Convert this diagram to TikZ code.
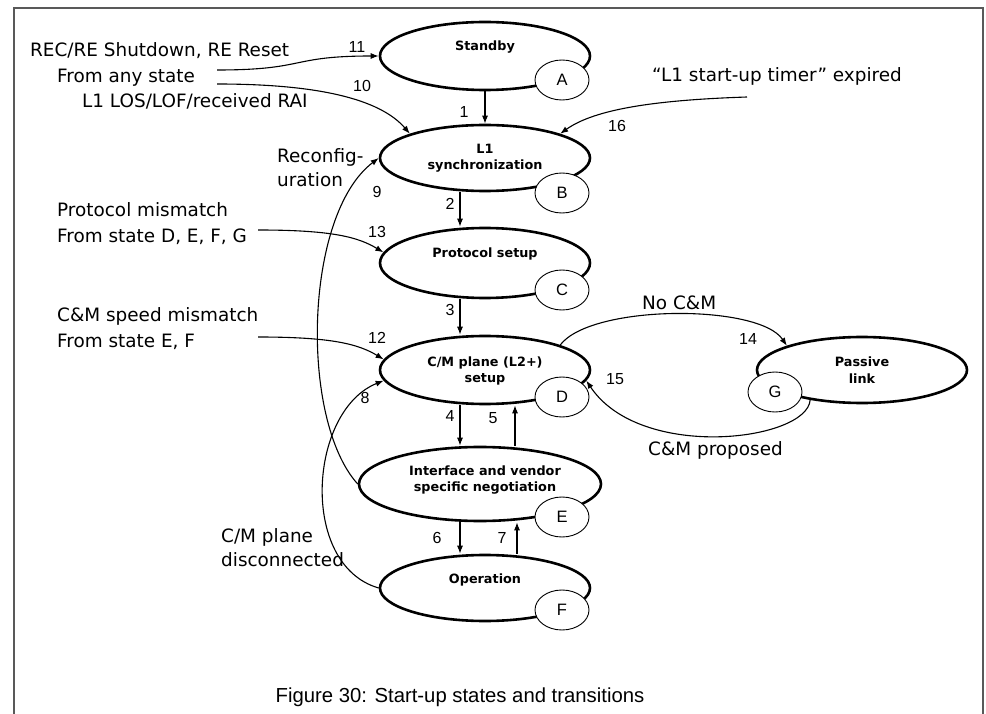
\documentclass[tikz,border=0pt]{standalone}
\usepackage{fontspec}
\setmainfont{DejaVu Sans}
\newfontfamily\arialfont{Liberation Sans}
\usetikzlibrary{calc,shapes,arrows.meta}

\tikzset{
  state/.style={draw,ellipse,line width=2.6pt,fill=white,inner sep=0pt},
  tag/.style={draw,ellipse,line width=0.9pt,fill=white,inner sep=0pt,
    minimum width=54pt,minimum height=40pt,
    font=\arialfont\fontsize{16.5}{18}\selectfont},
  statelbl/.style={font=\bfseries\fontsize{12.8}{16.5}\selectfont,align=center,inner sep=0pt},
  txt/.style={font=\fontsize{18.4}{22}\selectfont,anchor=base west,inner sep=0pt},
  num/.style={font=\arialfont\fontsize{16}{18}\selectfont,inner sep=0pt},
  trans/.style={line width=1.1pt,-{Latex[length=8pt,width=6pt]}},
}

\begin{document}
\begin{tikzpicture}[x=1pt,y=-1pt]
  \useasboundingbox (0,0) rectangle (986,714);
  \draw[black!65,line width=2pt] (14,714) -- (14,8) -- (983,8) -- (983,714);

  %% The states
  \foreach \l/\x/\y/\w/\h in {A/485/56/210/68, B/485/158/210/66, C/485/263/210/70,
      D/485/370/210/68, E/480/484/242/74, F/485/588/210/66, G/862/370/210/66}
  {
    \node[state,minimum width=\w pt,minimum height=\h pt] (S\l) at (\x,\y) {};
  }
  \node[statelbl] (LA) at (485,47)  {Standby};
  \node[statelbl] (LB) at (485,158) {L1\\synchronization};
  \node[statelbl] (LC) at (485,254) {Protocol setup};
  \node[statelbl] (LD) at (485,371) {C/M plane (L2+)\\setup};
  \node[statelbl] (LE) at (485,480) {Interface and vendor\\specific negotiation};
  \node[statelbl] (LF) at (485,580) {Operation};
  \node[statelbl] (LG) at (862,370) {Passive\\link};

  %% Main chain
  \draw[trans] (SA.south) -- (SB.north);
  \draw[trans] ([xshift=-25]SB.south) -- ([xshift=-25]SC.north);
  \draw[trans] ([xshift=-25]SC.south) -- ([xshift=-25]SD.north);
  \draw[trans] ([xshift=-25]SD.south) -- ([xshift=-20]SE.north);
  \draw[trans] ([xshift=35]SE.north) -- ([xshift=30]SD.south);
  \draw[trans] ([xshift=-20]SE.south) -- ([xshift=-25]SF.north);
  \draw[trans] ([xshift=32]SF.north) -- ([xshift=37]SE.south);
  \foreach \t/\x/\y in {1/464/112, 2/450/204, 3/450/310, 4/450/416, 5/493/418, 6/437/538, 7/502/538}
    \node[num] (N\t) at (\x,\y) {\t};

  %% Incoming conditions
  \node[txt] (T11) at (30,57)  {REC/RE Shutdown, RE Reset};
  \node[txt] (T10) at (57,83)  {From any state};
  \node[txt] (T10b) at (82,108) {L1 LOS/LOF/received RAI};
  \node[txt] (T13) at (57,217) {Protocol mismatch};
  \node[txt] (T13b) at (57,243) {From state D, E, F, G};
  \node[txt] (T12) at (57,322) {C\&M speed mismatch};
  \node[txt] (T12b) at (57,348) {From state E, F};
  \node[txt] (T16) at (652,82) {“L1 start-up timer” expired};
  \coordinate (s11) at (217,70);
  \coordinate (s10) at (217,84);
  \coordinate (s16) at (747,97);
  \coordinate (s13) at (258,230);
  \coordinate (s12) at (258,337);
  \draw[trans] (s11) .. controls +(90,0) and +(-90,0) .. (SA.west);
  \draw[trans] (s10) .. controls +(100,0) and +(-30,-35) .. (SB.north west);
  \draw[trans] (s16) .. controls +(-90,3) and +(35,-25) .. (SB.north east);
  \draw[trans] (s13) .. controls +(75,0) and +(-25,-15) .. (SC.174);
  \draw[trans] (s12) .. controls +(75,0) and +(-25,-15) .. (SD.174);

  %% Going back
  \node[txt] (T9) at (277,163) {Reconfig-};
  \node[txt] (T9b) at (277,187) {uration};
  \node[txt] (T8) at (221,542) {C/M plane};
  \node[txt] (T8b) at (221,566) {disconnected};
  \draw[trans] (SE.west) .. controls +(-58,-64) and +(-75,57) .. (SB.west);
  \draw[trans] (SF.west) .. controls +(-80,-23) and +(-75,30) .. (SD.186);

  %% Passive link
  \node[txt] (T14) at (642,309) {No C\&M};
  \node[txt] (T15) at (648,455) {C\&M proposed};
  \draw[trans] (SD.north east) .. controls +(31,-41) and +(-28,-42) .. (SG.north west);
  \draw[trans] (SG.210) .. controls +(-3,41) and +(54,81) .. (SD.-6);

  \foreach \t/\x/\y in {11/357/47, 10/362/86, 16/617/126, 9/377/192, 13/377/232,
      12/377/338, 8/365/398, 14/748/339, 15/615/379}
    \node[num] (N\t) at (\x,\y) {\t};

  %% State letters
  \foreach \l/\x/\y in {A/562/80, B/562/193, C/562/290, D/562/397, E/562/517, F/562/610, G/775/392}
    \node[tag] (C\l) at (\x,\y) {\l};

  \node[font=\arialfont\fontsize{20.3}{24}\selectfont,anchor=base,inner sep=0pt] (CAP) at (460,702)
    {Figure 30: Start-up states and transitions};
\end{tikzpicture}
\end{document}
